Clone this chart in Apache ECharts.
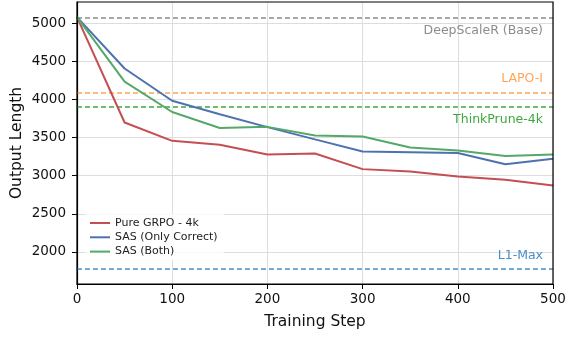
<!DOCTYPE html>
<html><head><meta charset="utf-8">
<script src="https://cdn.jsdelivr.net/npm/echarts@6/dist/echarts.min.js"></script>
<style>html,body{margin:0;padding:0;background:#fff}#c{width:566px;height:338px}</style>
</head><body><div id="c"></div>
<script>
const steps = [0, 50, 100, 150, 200, 250, 300, 350, 400, 450, 500];
const grpo = [5078, 3697, 3457, 3405, 3279, 3290, 3086, 3056, 2990, 2948, 2870];
const sasCorrect = [5078, 4405, 3983, 3805, 3637, 3476, 3318, 3307, 3297, 3151, 3221];
const sasBoth = [5078, 4232, 3835, 3626, 3640, 3526, 3515, 3370, 3331, 3258, 3279];
const seriesNames = ['Pure GRPO - 4k', 'SAS (Only Correct)', 'SAS (Both)'];
const refNames = ['DeepScaleR (Base)', 'LAPO-I', 'ThinkPrune-4k', 'L1-Max'];
const refValues = [5074, 4091, 3909, 1775];
const xTicks = [0, 100, 200, 300, 400, 500];
const yTicks = [2000, 2500, 3000, 3500, 4000, 4500, 5000];

const font = 'DejaVu Sans';
const lineColors = ['#c44e52', '#4c72b0', '#55a868'];
const refColors = ['#8c8c8c', '#ffa556', '#3da83d', '#4a8fc4'];
const refPos = ['insideEndBottom', 'insideEndTop', 'insideEndBottom', 'insideEndTop'];

const pair = arr => steps.map((s, i) => [s, arr[i]]);
const datasets = [grpo, sasCorrect, sasBoth];

const series = datasets.map((d, i) => ({
  name: seriesNames[i], type: 'line', data: pair(d), symbol: 'none', showSymbol: false,
  lineStyle: {color: lineColors[i], width: 2}, itemStyle: {color: lineColors[i]},
  z: 5
}));
series.push({
  name: 'refs', type: 'line', data: [], silent: true,
  markLine: {
    symbol: 'none', silent: true, animation: false,
    data: refValues.map((v, i) => ({
      yAxis: v,
      lineStyle: {color: refColors[i], type: [5, 3], width: 1.5},
      label: {show: true, formatter: refNames[i], position: refPos[i], color: refColors[i],
        fontFamily: font, fontSize: 12.5, distance: [10, 7]}
    }))
  }
});

const chart = echarts.init(document.getElementById('c'), null, {renderer: 'canvas'});
chart.setOption({
  animation: false,
  backgroundColor: '#fff',
  grid: {left: 77, right: 13, top: 2, bottom: 54, containLabel: false, outerBoundsMode: 'none'},
  legend: {
    data: seriesNames.map(n => ({name: n, icon: 'path://M0,0 H20 V2 H0 Z'})),
    orient: 'vertical', left: 86, top: 214,
    itemWidth: 20, itemHeight: 2, itemGap: 2.3,
    backgroundColor: 'rgba(255,255,255,0.8)', padding: [3, 6, 3, 4],
    textStyle: {fontFamily: font, fontSize: 11, color: '#222', lineHeight: 12}
  },
  xAxis: {
    type: 'value', min: 0, max: 500, interval: 100,
    name: 'Training Step', nameLocation: 'middle', nameGap: 30,
    nameTextStyle: {fontFamily: font, fontSize: 15.5, color: '#111'},
    axisLine: {show: true, onZero: false, lineStyle: {color: '#000', width: 1.2}},
    axisTick: {show: true, length: 5, lineStyle: {color: '#000'}},
    axisLabel: {fontFamily: font, fontSize: 13.5, color: '#111', margin: 8,
      customValues: xTicks, formatter: v => String(v)},
    splitLine: {show: true, lineStyle: {color: '#dedede', width: 1}}
  },
  yAxis: {
    type: 'value', min: 1580, max: 5277,
    name: 'Output Length', nameLocation: 'middle', nameGap: 52, nameMoveOverlap: false,
    nameTextStyle: {fontFamily: font, fontSize: 15.5, color: '#111'},
    axisLine: {show: true, onZero: false, lineStyle: {color: '#000', width: 1.2}},
    axisTick: {show: true, length: 5, lineStyle: {color: '#000'}, customValues: yTicks},
    axisLabel: {fontFamily: font, fontSize: 13.5, color: '#111', margin: 11,
      customValues: yTicks, formatter: v => String(v)},
    splitLine: {show: true, lineStyle: {color: '#dedede', width: 1}}
  },
  graphic: [],
  series: series
});
const g = chart.getModel().getComponent('grid').coordinateSystem.getRect();
chart.setOption({graphic: [{type: 'rect', silent: true, z: 100,
  shape: {x: g.x, y: g.y, width: g.width, height: g.height},
  style: {fill: null, stroke: '#000', lineWidth: 1.2}}]});
</script></body></html>
